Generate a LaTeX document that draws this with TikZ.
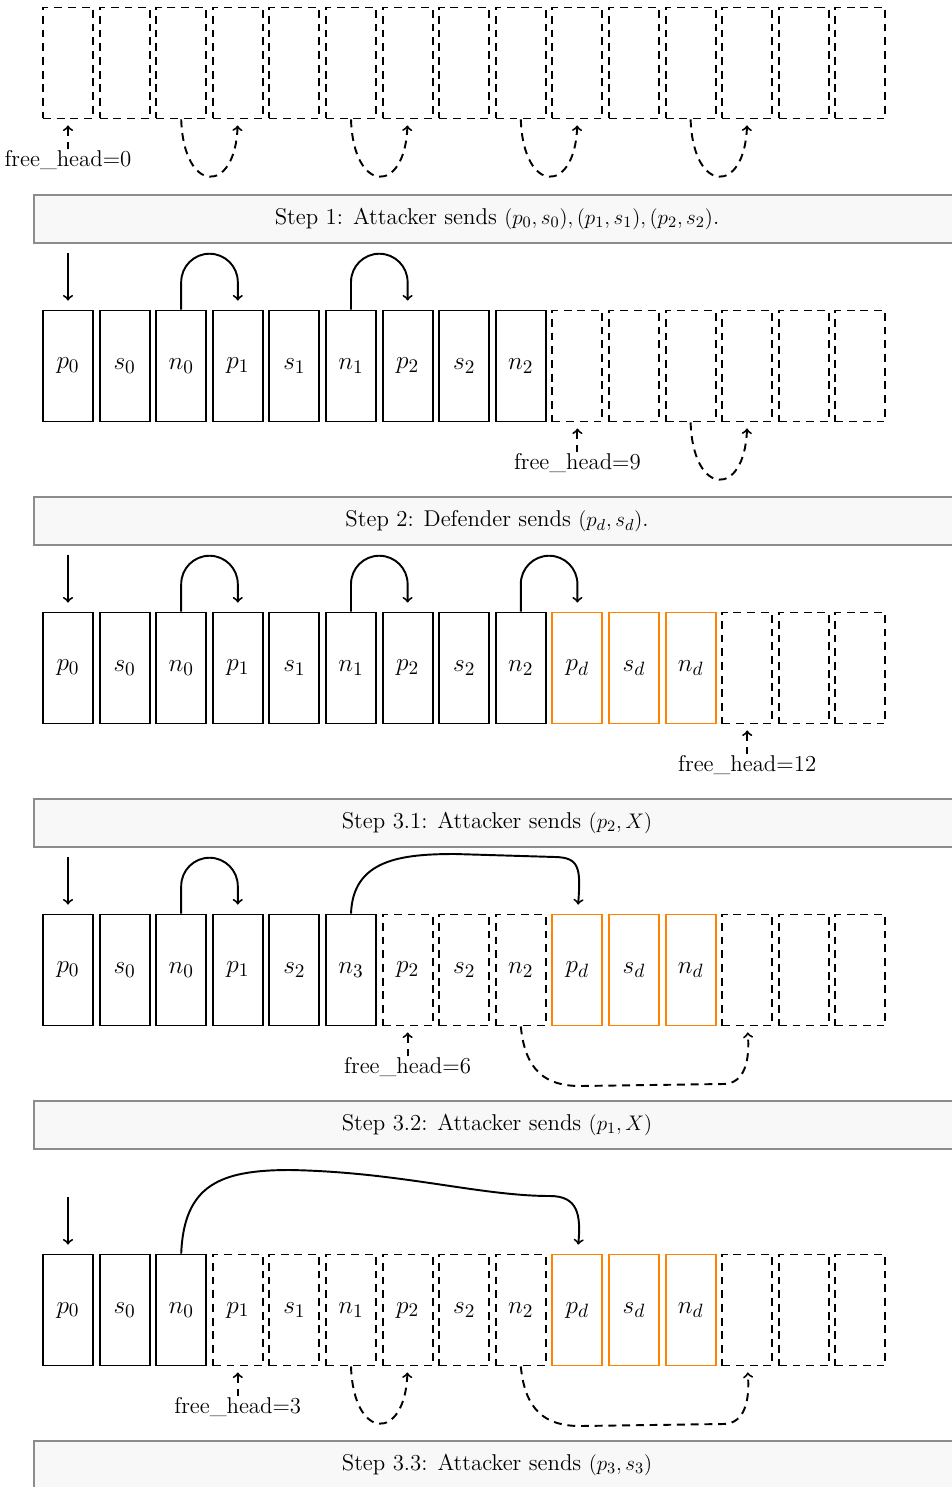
\documentclass[tikz,border=0pt]{standalone}
\usetikzlibrary{positioning}
\definecolor{orangeline}{RGB}{255,130,0}
\definecolor{bannerline}{RGB}{140,140,140}
\definecolor{bannerfill}{RGB}{248,248,248}

\def\l{1.132}
\def\ya{-1.26}
\def\yb{-7.32}
\def\yc{-13.36}
\def\yd{-19.40}
\def\ye{-26.20}
\def\zelle#1#2#3#4#5{
	\node[#4] (#1) at ({1.36+#2*\l},#3) {#5};
}
\def\bogen#1#2{
	\draw[->,shorten >=0.18cm] (#1.north) -- ++(0,0.55) arc[start angle=180,end angle=0,radius=0.566] -- (#2.north);
}
\def\schleife#1#2{
	\draw[leerpfeil] (#1.south) .. controls +(0.05,-1.5) and +(-0.05,-1.5) .. (#2.south);
}

\begin{document}
\begin{tikzpicture}[line width=1.1pt,font=\fontsize{13}{15}\selectfont,
	voll/.style={draw,line width=1.1pt,minimum width=1.0cm,minimum height=2.22cm,inner sep=0pt,font=\fontsize{15}{17}\selectfont},
	leer/.style={voll,dash pattern=on 4.5pt off 3.3pt},
	neu/.style={voll,draw=orangeline},
	leerpfeil/.style={->,dash pattern=on 4.5pt off 3.3pt,shorten >=0.12cm},
	fh/.style={inner sep=0pt},
	banner/.style={draw=bannerline,fill=bannerfill,line width=1.1pt,minimum width=18.52cm,minimum height=0.96cm}]
\useasboundingbox (0,0) rectangle (19.02,-29.74);

% row a: empty list
\zelle{a0}{0}{\ya}{leer}{}
\zelle{a1}{1}{\ya}{leer}{}
\zelle{a2}{2}{\ya}{leer}{}
\zelle{a3}{3}{\ya}{leer}{}
\zelle{a4}{4}{\ya}{leer}{}
\zelle{a5}{5}{\ya}{leer}{}
\zelle{a6}{6}{\ya}{leer}{}
\zelle{a7}{7}{\ya}{leer}{}
\zelle{a8}{8}{\ya}{leer}{}
\zelle{a9}{9}{\ya}{leer}{}
\zelle{a10}{10}{\ya}{leer}{}
\zelle{a11}{11}{\ya}{leer}{}
\zelle{a12}{12}{\ya}{leer}{}
\zelle{a13}{13}{\ya}{leer}{}
\zelle{a14}{14}{\ya}{leer}{}
\node[fh,below=0.6cm of a0] (fa) {free\_head=0};
\draw[leerpfeil] (fa.north) -- (a0.south);
\schleife{a2}{a3}
\schleife{a5}{a6}
\schleife{a8}{a9}
\schleife{a11}{a12}
\node[banner] (s1) at (9.94,-4.38) {Step 1: Attacker sends $(p_0,s_0),(p_1,s_1),(p_2,s_2)$.};

% row b
\zelle{b0}{0}{\yb}{voll}{$p_0$}
\zelle{b1}{1}{\yb}{voll}{$s_0$}
\zelle{b2}{2}{\yb}{voll}{$n_0$}
\zelle{b3}{3}{\yb}{voll}{$p_1$}
\zelle{b4}{4}{\yb}{voll}{$s_1$}
\zelle{b5}{5}{\yb}{voll}{$n_1$}
\zelle{b6}{6}{\yb}{voll}{$p_2$}
\zelle{b7}{7}{\yb}{voll}{$s_2$}
\zelle{b8}{8}{\yb}{voll}{$n_2$}
\zelle{b9}{9}{\yb}{leer}{}
\zelle{b10}{10}{\yb}{leer}{}
\zelle{b11}{11}{\yb}{leer}{}
\zelle{b12}{12}{\yb}{leer}{}
\zelle{b13}{13}{\yb}{leer}{}
\zelle{b14}{14}{\yb}{leer}{}
\coordinate[above=1.14cm of b0] (eb);
\draw[->,shorten >=0.18cm] (eb) -- (b0.north);
\bogen{b2}{b3}
\bogen{b5}{b6}
\node[fh,below=0.6cm of b9] (fb) {free\_head=9};
\draw[leerpfeil] (fb.north) -- (b9.south);
\schleife{b11}{b12}
\node[banner] (s2) at (9.94,-10.42) {Step 2: Defender sends $(p_d,s_d)$.};

% row c
\zelle{c0}{0}{\yc}{voll}{$p_0$}
\zelle{c1}{1}{\yc}{voll}{$s_0$}
\zelle{c2}{2}{\yc}{voll}{$n_0$}
\zelle{c3}{3}{\yc}{voll}{$p_1$}
\zelle{c4}{4}{\yc}{voll}{$s_1$}
\zelle{c5}{5}{\yc}{voll}{$n_1$}
\zelle{c6}{6}{\yc}{voll}{$p_2$}
\zelle{c7}{7}{\yc}{voll}{$s_2$}
\zelle{c8}{8}{\yc}{voll}{$n_2$}
\zelle{c9}{9}{\yc}{neu}{$p_d$}
\zelle{c10}{10}{\yc}{neu}{$s_d$}
\zelle{c11}{11}{\yc}{neu}{$n_d$}
\zelle{c12}{12}{\yc}{leer}{}
\zelle{c13}{13}{\yc}{leer}{}
\zelle{c14}{14}{\yc}{leer}{}
\coordinate[above=1.14cm of c0] (ec);
\draw[->,shorten >=0.18cm] (ec) -- (c0.north);
\bogen{c2}{c3}
\bogen{c5}{c6}
\bogen{c8}{c9}
\node[fh,below=0.6cm of c12] (fc) {free\_head=12};
\draw[leerpfeil] (fc.north) -- (c12.south);
\node[banner] (s31) at (9.94,-16.46) {Step 3.1: Attacker sends $(p_2,X)$};

% row d
\zelle{d0}{0}{\yd}{voll}{$p_0$}
\zelle{d1}{1}{\yd}{voll}{$s_0$}
\zelle{d2}{2}{\yd}{voll}{$n_0$}
\zelle{d3}{3}{\yd}{voll}{$p_1$}
\zelle{d4}{4}{\yd}{voll}{$s_2$}
\zelle{d5}{5}{\yd}{voll}{$n_3$}
\zelle{d6}{6}{\yd}{leer}{$p_2$}
\zelle{d7}{7}{\yd}{leer}{$s_2$}
\zelle{d8}{8}{\yd}{leer}{$n_2$}
\zelle{d9}{9}{\yd}{neu}{$p_d$}
\zelle{d10}{10}{\yd}{neu}{$s_d$}
\zelle{d11}{11}{\yd}{neu}{$n_d$}
\zelle{d12}{12}{\yd}{leer}{}
\zelle{d13}{13}{\yd}{leer}{}
\zelle{d14}{14}{\yd}{leer}{}
\coordinate[above=1.14cm of d0] (ed);
\draw[->,shorten >=0.18cm] (ed) -- (d0.north);
\bogen{d2}{d3}
\draw[->,shorten >=0.18cm] (d5.north) .. controls (7.06,-17.20) and (8.0,-17.08) .. (9.1,-17.08)
	-- (11.1,-17.14) .. controls (11.58,-17.15) and (11.62,-17.35) .. (d9.north);
\node[fh,below=0.6cm of d6] (fd) {free\_head=6};
\draw[leerpfeil] (fd.north) -- (d6.south);
\draw[leerpfeil] (d8.south) .. controls (10.5,-21.40) and (10.9,-21.72) .. (11.6,-21.72)
	-- (14.46,-21.68) .. controls (14.9,-21.68) and (15.0,-21.20) .. (d12.south);
\node[banner] (s32) at (9.94,-22.50) {Step 3.2: Attacker sends $(p_1,X)$};

% row e
\zelle{e0}{0}{\ye}{voll}{$p_0$}
\zelle{e1}{1}{\ye}{voll}{$s_0$}
\zelle{e2}{2}{\ye}{voll}{$n_0$}
\zelle{e3}{3}{\ye}{leer}{$p_1$}
\zelle{e4}{4}{\ye}{leer}{$s_1$}
\zelle{e5}{5}{\ye}{leer}{$n_1$}
\zelle{e6}{6}{\ye}{leer}{$p_2$}
\zelle{e7}{7}{\ye}{leer}{$s_2$}
\zelle{e8}{8}{\ye}{leer}{$n_2$}
\zelle{e9}{9}{\ye}{neu}{$p_d$}
\zelle{e10}{10}{\ye}{neu}{$s_d$}
\zelle{e11}{11}{\ye}{neu}{$n_d$}
\zelle{e12}{12}{\ye}{leer}{}
\zelle{e13}{13}{\ye}{leer}{}
\zelle{e14}{14}{\ye}{leer}{}
\coordinate[above=1.14cm of e0] (ee);
\draw[->,shorten >=0.18cm] (ee) -- (e0.north);
\draw[->,shorten >=0.18cm] (e2.north) .. controls (3.68,-23.70) and (4.4,-23.40) .. (5.8,-23.40)
	.. controls (8.0,-23.44) and (9.6,-23.92) .. (11.0,-23.92)
	.. controls (11.56,-23.92) and (11.62,-24.30) .. (e9.north);
\node[fh,below=0.6cm of e3] (fe) {free\_head=3};
\draw[leerpfeil] (fe.north) -- (e3.south);
\schleife{e5}{e6}
\draw[leerpfeil] (e8.south) .. controls (10.5,-28.20) and (10.9,-28.52) .. (11.6,-28.52)
	-- (14.46,-28.48) .. controls (14.9,-28.48) and (15.0,-28.00) .. (e12.south);
\node[banner] (s33) at (9.94,-29.30) {Step 3.3: Attacker sends $(p_3,s_3)$};
\end{tikzpicture}
\end{document}
